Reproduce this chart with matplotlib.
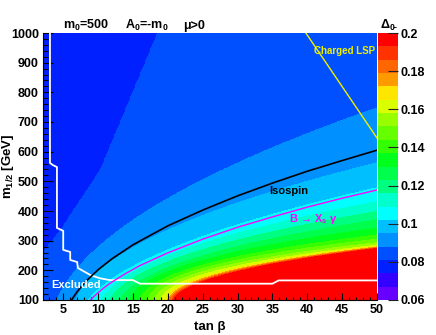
import numpy as np
import matplotlib
matplotlib.use("Agg")
import matplotlib.pyplot as plt
from matplotlib.ticker import MultipleLocator

plt.rcParams['font.family'] = ['Liberation Sans', 'DejaVu Sans']
plt.rcParams['font.weight'] = 'bold'
plt.rcParams['mathtext.fontset'] = 'custom'
plt.rcParams['mathtext.rm'] = 'Liberation Sans:bold'
plt.rcParams['mathtext.it'] = 'Liberation Sans:bold'
plt.rcParams['mathtext.bf'] = 'Liberation Sans:bold'
plt.rcParams['mathtext.default'] = 'rm'

# colour levels of Delta_0- (ROOT palette, bottom to top)
levels = [0.060, 0.067, 0.074, 0.081, 0.088, 0.095, 0.102, 0.109, 0.116, 0.123, 0.130,
          0.137, 0.144, 0.151, 0.158, 0.165, 0.172, 0.179, 0.186, 0.193, 0.200]
colors = ['#6600FF', '#3300FF', '#0020FF', '#0050FF', '#0090FF', '#00BFFF', '#00FFFF',
          '#00FFCC', '#00FF80', '#00FF4D', '#00FF1A', '#33FF00', '#66FF00', '#99FF00',
          '#D9FF00', '#FFE600', '#FF9900', '#FF6600', '#FF3300', '#FF0000']

# band edges: tan(beta) where the edge meets m=100,
# m_1/2 at tan(beta)=30 and at tan(beta)=50
edge_lev = [0.088, 0.095, 0.102, 0.109, 0.116, 0.123, 0.130, 0.137,
            0.144, 0.151, 0.158, 0.165, 0.172, 0.179, 0.186, 0.193]
edge_t0 = [4.1, 6.8, 8.6, 10.5, 11.7, 13.2, 14.6, 16.0, 17.2, 18.2, 19.0, 19.6, 20.0, 20.3, 20.6, 20.9]
edge_m30 = [561, 427, 353, 325, 302, 280, 263, 246, 235, 224, 215, 207, 204, 201, 198, 195]
edge_m50 = [747, 562, 478, 431, 398, 370, 342, 319, 305, 293, 285, 281, 279, 277, 275, 273]

# edge 0.081 (top-left dark region)
e081_tb = [2.1, 4.6, 10.3, 18.5, 26.0]
e081_m = [262, 336, 538, 1000, 1450]

# overlaid curves
iso_tb = [6.2, 6.5, 7, 8, 10, 12, 15, 20, 25, 30, 35, 40, 45, 50]
iso_m = [100, 111, 128, 157, 202, 239, 286, 350, 403, 451, 494, 534, 570, 605]
bsg_tb = [8.9, 9.5, 10, 11, 12, 14, 16, 20, 25, 30, 35, 40, 45, 50]
bsg_m = [100, 114, 125, 144, 161, 190, 216, 259, 305, 345, 380, 413, 443, 471]
lsp_tb = [39.8, 50.0]
lsp_m = [1000, 646]
exc_tb = [3.1, 3.1, 3.5, 4.1, 4.1, 5.0, 5.0, 6.0, 6.0, 7.0, 7.1, 8.9, 10.3, 11.7, 15.0, 16.0, 35.0, 35.9, 50.0]
exc_m = [1000, 562, 555, 548, 343, 333, 269, 262, 235, 228, 208, 184, 173, 167, 167, 155, 155, 166, 166]

# build the field from the read edges
tb = np.linspace(2.1, 50, 400)
mm = np.linspace(100, 1000, 500)
edges = []
for t0, m30, m50 in zip(edge_t0, edge_m30, edge_m50):
    p = np.log((m50**2 - 1e4) / (m30**2 - 1e4)) / np.log((50 - t0) / (30 - t0))
    k = (m50**2 - 1e4) / (50 - t0)**p
    d = tb - t0
    m2 = 1e4 + k * np.sign(d) * np.abs(d)**p
    edges.append(np.sqrt(np.clip(m2, 0, None)))
edges.insert(0, np.interp(tb, e081_tb, e081_m))
edges = np.array(edges)
lev = np.array([0.081] + edge_lev)

Z = np.zeros((len(mm), len(tb)))
for j in range(len(tb)):
    xp = np.maximum.accumulate(edges[::-1, j])
    Z[:, j] = np.interp(mm, xp, lev[::-1], left=0.1999, right=0.0775)

fig = plt.figure(figsize=(4.36, 3.35), dpi=100)
ax = fig.add_axes([43/436, 35/335, 334/436, 267/335])
cs = ax.contourf(tb, mm, Z, levels=levels, colors=colors)

ax.plot(exc_tb, exc_m, color='white', lw=1.3)
ax.plot(iso_tb, iso_m, color='black', lw=1.2)
ax.plot(bsg_tb, bsg_m, color='#FF00FF', lw=1.0)
ax.plot(lsp_tb, lsp_m, color='#F0F000', lw=1.0)

ax.text(6.8, 149, 'Excluded', color='white', fontsize=8, ha='center', va='center')
ax.text(37.35, 467, 'Isospin', color='black', fontsize=8, ha='center', va='center')
ax.text(37.4, 373, 'B \u2192 X$_s$ \u03b3', color='#FF00FF', fontsize=8, ha='left', va='center')
ax.text(49.7, 939, 'Charged LSP', color='#F0F000', fontsize=7, ha='right', va='center')

ax.set_xlim(2.1, 50)
ax.set_ylim(100, 1000)
ax.xaxis.set_major_locator(MultipleLocator(5))
ax.xaxis.set_minor_locator(MultipleLocator(1))
ax.yaxis.set_major_locator(MultipleLocator(100))
ax.yaxis.set_minor_locator(MultipleLocator(20))
ax.tick_params(axis='x', which='major', direction='in', length=5, width=0.8, labelsize=9, pad=3)
ax.tick_params(axis='x', which='minor', direction='in', length=2.5, width=0.8)
ax.tick_params(axis='y', which='major', direction='in', length=7, width=0.8, labelsize=9, pad=3)
ax.tick_params(axis='y', which='minor', direction='in', length=3.5, width=0.8)
ax.spines['top'].set_visible(False)
ax.spines['right'].set_visible(False)

fig.text(209.5/436, 1 - 327/335, 'tan \u03b2', fontsize=9.5, ha='center', va='center')
fig.text(7.5/436, 1 - 166.5/335, 'm$_{1/2}$ [GeV]', fontsize=9.5, ha='center', va='center', rotation=90)

fig.text(63/436, 1 - 29/335, 'm$_0$=500', fontsize=9, ha='left', va='baseline')
fig.text(125/436, 1 - 29/335, 'A$_0$=-m$_0$', fontsize=9, ha='left', va='baseline')
fig.text(183/436, 1 - 29/335, '\u03bc>0', fontsize=9, ha='left', va='baseline')

cax = fig.add_axes([378/436, 35/335, 20/436, 267/335])
cb = fig.colorbar(cs, cax=cax, ticks=[0.06, 0.08, 0.1, 0.12, 0.14, 0.16, 0.18, 0.2])
cb.outline.set_visible(False)
cb.ax.set_yticklabels(['0.06', '0.08', '0.1', '0.12', '0.14', '0.16', '0.18', '0.2'])
cax.tick_params(direction='in', length=7, width=0.8, color='#222222', labelsize=9, pad=2)
cax.minorticks_off()
fig.text(380/436, 1 - 29/335, '\u0394$_{0\\text{-}}$', fontsize=9, ha='left', va='baseline')

fig.savefig('out.png', dpi=100)
